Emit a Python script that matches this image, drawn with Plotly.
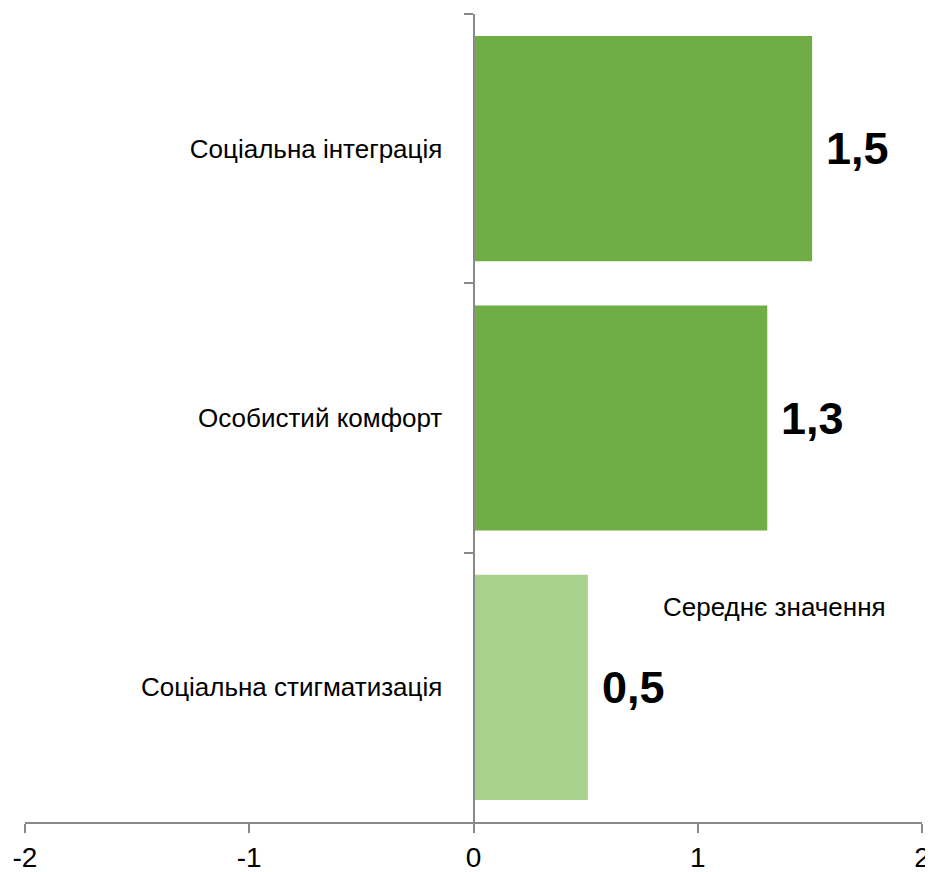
import plotly.graph_objects as go

categories = ["Соціальна інтеграція", "Особистий комфорт", "Соціальна стигматизація"]
values = [1.51, 1.31, 0.51]
labels = ["1,5", "1,3", "0,5"]
colors = ["#70AD47", "#70AD47", "#A9D18E"]
x_ticks = [-2, -1, 0, 1, 2]
x_tick_labels = ["-2", "-1", "0", "1", "2"]
legend_text = "Середнє значення"

FONT = "Liberation Sans Narrow, Arial Narrow, Liberation Sans, Arial, sans-serif"
AXIS = "#898989"

fig = go.Figure()
fig.add_trace(go.Bar(
    y=categories, x=values, orientation="h",
    marker=dict(color=colors, line=dict(width=0)),
    showlegend=False, hoverinfo="skip",
))

for c, v, t in zip(categories, values, labels):
    fig.add_annotation(x=v, y=c, text=t, showarrow=False, xanchor="left",
                       yanchor="middle", xshift=12,
                       font=dict(family=FONT, size=45, color="black", weight="bold"))

fig.add_annotation(xref="paper", yref="paper", x=0.836, y=0.266, text=legend_text,
                   showarrow=False, xanchor="center", yanchor="middle",
                   font=dict(family=FONT, size=26, color="black"))

fig.update_layout(
    width=925, height=864,
    margin=dict(l=17, r=11, t=6, b=50),
    paper_bgcolor="white", plot_bgcolor="white",
    bargap=0.164,
    font=dict(family=FONT, size=26, color="black"),
    xaxis=dict(range=[-2, 2], tickvals=x_ticks, ticktext=x_tick_labels,
               automargin=False,
               showgrid=False, zeroline=False, showline=True, linecolor=AXIS,
               linewidth=2, ticks="outside", ticklen=9, tickcolor=AXIS, tickwidth=2,
               tickfont=dict(family=FONT, size=28, color="black")),
    yaxis=dict(autorange="reversed", anchor="free", position=0.5,
               automargin=False,
               showgrid=False, zeroline=False, showline=True, linecolor=AXIS,
               linewidth=2, ticks="outside", ticklen=9, tickcolor=AXIS, tickwidth=2,
               tickson="boundaries", ticklabelstandoff=25,
               tickfont=dict(family=FONT, size=26, color="black")),
)

fig.write_html("out.html")
